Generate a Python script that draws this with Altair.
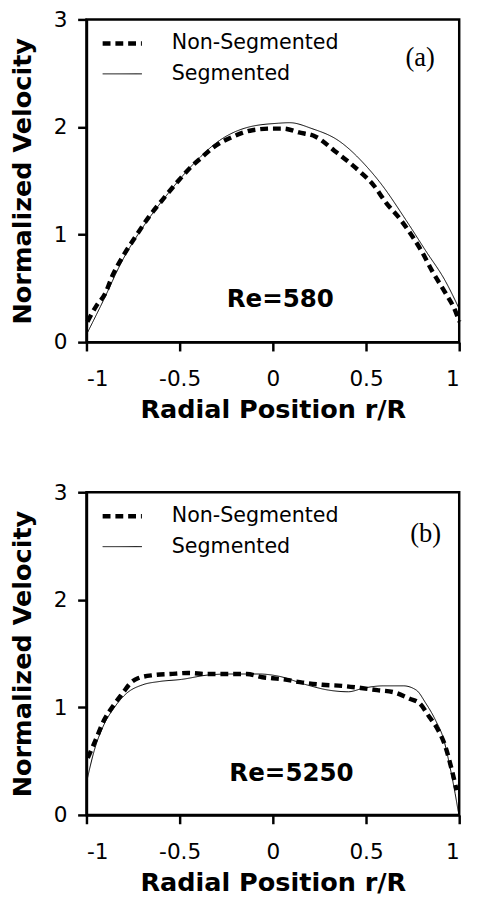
import altair as alt
import pandas as pd

# ---- Panel (a) Re=580 ----
a_seg_x = [-1.0, -0.91, -0.807, -0.685, -0.563, -0.424, -0.285, -0.128, 0.03, 0.09, 0.21, 0.35, 0.507, 0.577, 0.716, 0.82, 0.925, 1.0]
a_seg_y = [0.07, 0.385, 0.76, 1.10, 1.38, 1.66, 1.876, 2.0, 2.035, 2.04, 1.985, 1.876, 1.625, 1.48, 1.13, 0.85, 0.57, 0.31]
a_non_x = [-0.995, -0.946, -0.90, -0.86, -0.807, -0.737, -0.667, -0.589, -0.502, -0.45, -0.38, -0.32, -0.215, -0.11, -0.008, 0.055, 0.14, 0.23, 0.33, 0.47, 0.54, 0.61, 0.68, 0.75, 0.80, 0.855, 0.925, 0.986, 1.0]
a_non_y = [0.19, 0.34, 0.45, 0.62, 0.79, 0.98, 1.16, 1.33, 1.51, 1.61, 1.72, 1.81, 1.91, 1.97, 1.985, 1.985, 1.95, 1.91, 1.78, 1.58, 1.46, 1.29, 1.15, 0.98, 0.84, 0.66, 0.46, 0.26, 0.19]

# ---- Panel (b) Re=5250 ----
b_seg_x = [-0.995, -0.958, -0.906, -0.854, -0.785, -0.698, -0.61, -0.49, -0.35, -0.23, -0.073, 0.03, 0.18, 0.30, 0.405, 0.49, 0.595, 0.70, 0.77, 0.82, 0.873, 0.917, 0.95, 0.978, 0.995]
b_seg_y = [0.34, 0.60, 0.84, 0.99, 1.13, 1.21, 1.24, 1.26, 1.30, 1.31, 1.31, 1.29, 1.21, 1.16, 1.145, 1.18, 1.20, 1.20, 1.16, 1.04, 0.88, 0.70, 0.45, 0.20, 0.03]
b_non_x = [-0.993, -0.95, -0.906, -0.854, -0.80, -0.767, -0.724, -0.637, -0.55, -0.455, -0.35, -0.246, -0.14, -0.056, 0.0, 0.057, 0.16, 0.266, 0.37, 0.474, 0.56, 0.65, 0.734, 0.786, 0.84, 0.88, 0.925, 0.96, 0.986]
b_non_y = [0.53, 0.70, 0.88, 1.02, 1.145, 1.22, 1.27, 1.30, 1.31, 1.32, 1.31, 1.31, 1.31, 1.28, 1.27, 1.26, 1.23, 1.21, 1.20, 1.18, 1.16, 1.14, 1.08, 1.04, 0.91, 0.81, 0.64, 0.42, 0.23]

series_names = ["Non-Segmented", "Segmented"]
x_ticks = [-1, -0.5, 0, 0.5, 1]
y_ticks = [0, 1, 2, 3]

panel_labels = ["(a)", "(b)"]
panel_label_pos = [(0.79, 2.64), (0.82, 2.61)]
re_labels = ["Re=580", "Re=5250"]
re_label_pos = [(0.04, 0.40), (0.1, 0.39)]

SANS = "DejaVu Sans"


def make_df(nx, ny, sx, sy):
    rows = []
    for i, (x, y) in enumerate(zip(nx, ny)):
        rows.append({"r": x, "v": y, "series": series_names[0], "o": i})
    for i, (x, y) in enumerate(zip(sx, sy)):
        rows.append({"r": x, "v": y, "series": series_names[1], "o": i})
    return pd.DataFrame(rows)


def legend():
    return alt.Legend(title=None, orient="none", legendX=14, legendY=2,
                      symbolType="stroke", symbolSize=1600,
                      symbolStrokeColor="black",
                      labelFont=SANS, labelFontSize=21, labelLimit=400,
                      labelColor="black", rowPadding=-6, labelOffset=28)


def panel(df, plab, ppos, rlab, rpos):
    xenc = alt.X("r:Q", scale=alt.Scale(domain=[-1, 1], nice=False),
                 axis=alt.Axis(values=x_ticks, title="Radial Position r/R",
                               labelExpr="toString(datum.value)"))
    yenc = alt.Y("v:Q", scale=alt.Scale(domain=[0, 3], nice=False),
                 axis=alt.Axis(values=y_ticks, title="Normalized Velocity",
                               labelExpr="toString(datum.value)"))
    lines = alt.Chart(df).mark_line(color="black", interpolate="monotone").encode(
        x=xenc, y=yenc,
        order="o:Q",
        detail="series:N",
        strokeDash=alt.StrokeDash("series:N",
                                  scale=alt.Scale(domain=series_names, range=[[8, 5], [1, 0]]),
                                  legend=legend()),
        strokeWidth=alt.StrokeWidth("series:N",
                                    scale=alt.Scale(domain=series_names, range=[4.5, 1]),
                                    legend=legend()),
    )
    pdf = pd.DataFrame({"r": [ppos[0]], "v": [ppos[1]], "t": [plab]})
    rdf = pd.DataFrame({"r": [rpos[0]], "v": [rpos[1]], "t": [rlab]})
    ptxt = alt.Chart(pdf).mark_text(font="Liberation Serif", fontSize=27, color="black").encode(
        x="r:Q", y="v:Q", text="t:N")
    rtxt = alt.Chart(rdf).mark_text(font=SANS, fontSize=25, fontWeight="bold", color="black").encode(
        x="r:Q", y="v:Q", text="t:N")
    return alt.layer(lines, ptxt, rtxt).properties(width=380, height=329)


pa = panel(make_df(a_non_x, a_non_y, a_seg_x, a_seg_y), panel_labels[0], panel_label_pos[0], re_labels[0], re_label_pos[0])
pb = panel(make_df(b_non_x, b_non_y, b_seg_x, b_seg_y), panel_labels[1], panel_label_pos[1], re_labels[1], re_label_pos[1])

chart = alt.vconcat(pa, pb, spacing=56).resolve_legend(
    strokeDash="independent", strokeWidth="independent"
).resolve_scale(strokeDash="independent", strokeWidth="independent").properties(
    padding={"left": 0, "top": -10, "right": 0, "bottom": -10}
).configure_view(stroke="black", strokeWidth=2.5).configure_axis(
    grid=False,
    domainColor="black", domainWidth=2.5,
    tickColor="black", tickWidth=2.5, tickSize=9,
    labelFont=SANS, labelFontSize=22, labelColor="black",
    titleFont=SANS, titleFontSize=26, titleFontWeight="bold", titleColor="black",
).configure_axisX(labelPadding=18, titlePadding=8).configure_axisY(labelPadding=11, titlePadding=18)

chart.save("out.html", embed_options={"renderer": "svg", "actions": False})
